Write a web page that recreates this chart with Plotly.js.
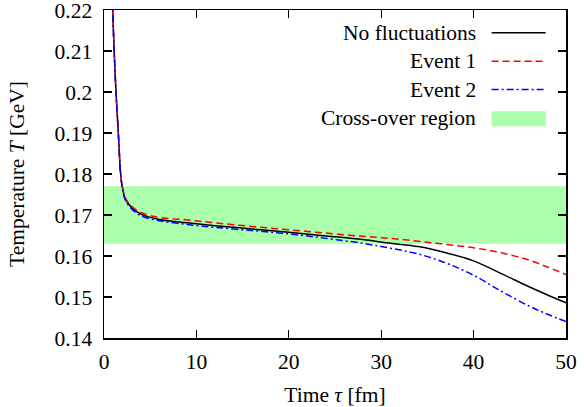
<!DOCTYPE html>
<html>
<head>
<meta charset="utf-8">
<script src="https://cdn.plot.ly/plotly-3.0.1.min.js"></script>
<style>html,body{margin:0;padding:0;background:#fff;}#chart{width:584px;height:407px;}</style>
</head>
<body>
<div id="chart"></div>
<script>
// Time τ [fm]
var tau = [0.9, 1.1, 1.3, 1.55, 1.8, 2.0, 2.35, 3.0, 4.0, 6.0, 9.0, 12, 16, 20, 24, 28, 31, 34, 37, 40, 43, 46, 48, 50];
// Temperature T [GeV]
var noFluct = [0.2225, 0.21, 0.20, 0.19, 0.18, 0.1766, 0.1737, 0.1718, 0.1702, 0.1689, 0.1681, 0.1674, 0.1666, 0.1658, 0.1649, 0.1640, 0.1631, 0.1623, 0.1608, 0.1588, 0.1557, 0.1525, 0.1505, 0.1486];
var event1  = [0.2225, 0.21, 0.20, 0.19, 0.18, 0.1768, 0.1740, 0.1721, 0.1706, 0.1694, 0.1688, 0.1681, 0.1672, 0.1664, 0.1656, 0.1648, 0.1643, 0.1636, 0.1628, 0.1620, 0.1608, 0.1590, 0.1573, 0.1555];
var event2  = [0.2225, 0.21, 0.20, 0.19, 0.18, 0.1764, 0.1734, 0.1715, 0.1698, 0.1686, 0.1677, 0.1670, 0.1662, 0.1654, 0.1643, 0.1631, 0.1619, 0.1605, 0.1583, 0.1553, 0.1514, 0.1478, 0.1458, 0.1440];
// Cross-over region
var bandLow = 0.163, bandHigh = 0.177;
var legendLabels = ["No fluctuations", "Event 1", "Event 2", "Cross-over region"];
var xTicks = [0, 10, 20, 30, 40, 50];
var yTicks = [0.14, 0.15, 0.16, 0.17, 0.18, 0.19, 0.20, 0.21, 0.22];
var yTickText = ["0.14", "0.15", "0.16", "0.17", "0.18", "0.19", "0.2", "0.21", "0.22"];

var font = '"Liberation Serif", "Times New Roman", Times, serif';
var fs = 21.5;
var traces = [
  {x: [0, 50, 50, 0], y: [bandLow, bandLow, bandHigh, bandHigh], fill: "toself", mode: "none",
   fillcolor: "rgb(170,255,170)", hoverinfo: "skip", showlegend: false},
  {x: tau, y: noFluct, mode: "lines", line: {color: "#000000", width: 1.5, shape: "spline"}, showlegend: false},
  {x: tau, y: event1, mode: "lines", line: {color: "#ff0000", width: 1.5, dash: "7px,4px", shape: "spline"}, showlegend: false},
  {x: tau, y: event2, mode: "lines", line: {color: "#0000ff", width: 1.5, dash: "7px,3px,2px,3px", shape: "spline"}, showlegend: false}
];

var rowsY = [0.9307, 0.8435, 0.7574, 0.6693];
var annotations = legendLabels.map(function (t, i) {
  return {xref: "paper", yref: "paper", x: 0.8095, y: rowsY[i], xanchor: "right", yanchor: "middle",
          text: t, showarrow: false, font: {family: font, size: fs, color: "#000"}};
});
var sx0 = 0.839, sx1 = 0.956;
var shapes = [
  {type: "line", xref: "paper", yref: "paper", x0: sx0, x1: sx1, y0: rowsY[0], y1: rowsY[0], line: {color: "#000", width: 1.5}},
  {type: "line", xref: "paper", yref: "paper", x0: sx0, x1: sx1, y0: rowsY[1], y1: rowsY[1], line: {color: "#ff0000", width: 1.5, dash: "7px,4px"}},
  {type: "line", xref: "paper", yref: "paper", x0: sx0, x1: sx1, y0: rowsY[2], y1: rowsY[2], line: {color: "#0000ff", width: 1.5, dash: "7px,3px,2px,3px"}},
  {type: "rect", xref: "paper", yref: "paper", x0: sx0, x1: sx1, y0: 0.6459, y1: 0.6915, fillcolor: "rgb(170,255,170)", line: {width: 0}}
];

var axisCommon = {
  showgrid: false, zeroline: false, showline: true, linecolor: "#000", linewidth: 1.5,
  ticks: "inside", ticklen: 8, tickwidth: 1.2, tickcolor: "#000", mirror: "allticks",
  ticklabeloverflow: "allow",
  tickfont: {family: font, size: fs, color: "#000"}
};
var layout = {
  width: 584, height: 407,
  margin: {l: 104, r: 18, t: 9.5, b: 68.5},
  paper_bgcolor: "#fff", plot_bgcolor: "#fff",
  font: {family: font, size: fs, color: "#000"},
  showlegend: false,
  xaxis: Object.assign({}, axisCommon, {range: [0, 50], tickvals: xTicks, ticktext: xTicks.map(String),
    ticklabelstandoff: 4,
    title: {text: "Time <i>τ</i> [fm]", font: {family: font, size: fs, color: "#000"}, standoff: 14}}),
  yaxis: Object.assign({}, axisCommon, {range: [0.14, 0.22], tickvals: yTicks, ticktext: yTickText,
    ticklabelstandoff: 6,
    title: {text: "Temperature <i>T</i> [GeV]", font: {family: font, size: fs, color: "#000"}, standoff: 24}}),
  annotations: annotations,
  shapes: shapes
};
Plotly.newPlot("chart", traces, layout, {displayModeBar: false, staticPlot: true});
</script>
</body>
</html>
